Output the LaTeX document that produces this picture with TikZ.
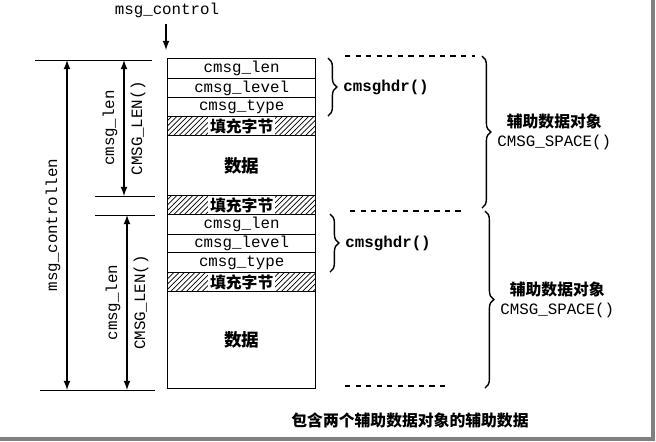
\documentclass[tikz,border=0pt]{standalone}
\usepackage{fontspec}
\setmonofont{Liberation Mono}
\newfontfamily\cjk{Noto Sans CJK SC}
\usetikzlibrary{patterns,decorations.pathreplacing}
\tikzset{
  field/.style={draw, thick, minimum width=148*0.02cm, inner sep=0pt, anchor=north west, font=\ttfamily\small},
  padfield/.style={field, pattern=north east lines},
  padtext/.style={fill=white, inner sep=1pt, font=\cjk\bfseries\small},
  dimline/.style={thick, <->, >=latex},
  brace/.style={decorate, decoration={brace, amplitude=5pt}, thick},
}
\begin{document}
\begin{tikzpicture}[x=0.02cm, y=-0.02cm]
    \useasboundingbox (0,0) rectangle (656,441);
    \draw[gray, line width=2pt] (653,0) -- (653,439) -- (0,439);

    % first object
    \node[field, minimum height=20*0.02cm] (len1) at (167,58) {cmsg\_len};
    \node[field, minimum height=19*0.02cm] (lvl1) at (167,78) {cmsg\_level};
    \node[field, minimum height=19*0.02cm] (typ1) at (167,97) {cmsg\_type};
    \node[padfield, minimum height=19*0.02cm] (pad1) at (167,116) {};
    \node[padtext] at (pad1) {填充字节};
    \node[field, minimum height=60*0.02cm, font=\cjk\bfseries] (dat1) at (167,135) {数据};
    \node[padfield, minimum height=19*0.02cm] (pad2) at (167,195) {};
    \node[padtext] at (pad2) {填充字节};

    % second object
    \node[field, minimum height=20*0.02cm] (len2) at (167,214) {cmsg\_len};
    \node[field, minimum height=18*0.02cm] (lvl2) at (167,234) {cmsg\_level};
    \node[field, minimum height=20*0.02cm] (typ2) at (167,252) {cmsg\_type};
    \node[padfield, minimum height=19*0.02cm] (pad3) at (167,272) {};
    \node[padtext] at (pad3) {填充字节};
    \node[field, minimum height=97*0.02cm, font=\cjk\bfseries] (dat2) at (167,291) {数据};

    % msg_control pointer
    \node[font=\ttfamily\small] (ctl) at (167,10) {msg\_control};
    \coordinate (ctlend) at (166,50);
    \draw[thick, ->, >=latex] (ctl.south -| ctlend) -- (ctlend);

    % dimension lines
    \coordinate (t0) at (35,60);  \coordinate (t1) at (152,60);
    \coordinate (m0) at (95,196); \coordinate (m1) at (155,196);
    \coordinate (n0) at (95,215); \coordinate (n1) at (155,215);
    \coordinate (b0) at (40,390); \coordinate (b1) at (155,390);
    \draw (t0) -- (t1);
    \draw (m0) -- (m1);
    \draw (n0) -- (n1);
    \draw (b0) -- (b1);
    \draw[dimline] (67,390) -- node[sloped, above, font=\ttfamily\small] {msg\_controllen} (67,60);
    \draw[dimline] (124,196) -- node[sloped, above, font=\ttfamily\small] {cmsg\_len}
        node[sloped, below, font=\ttfamily\small] {CMSG\_LEN()} (124,60);
    \draw[dimline] (127,390) -- node[sloped, above, font=\ttfamily\small] {cmsg\_len}
        node[sloped, below, font=\ttfamily\small] {CMSG\_LEN()} (127,215);

    % braces
    \draw[brace] (328,58) -- node[right=5pt, font=\ttfamily\bfseries\small] (hdr1) {cmsghdr()} (328,116);
    \draw[brace] (330,214) -- node[right=5pt, font=\ttfamily\bfseries\small] (hdr2) {cmsghdr()} (330,272);
    \draw[dashed, thick] (345,56) -- (475,56);
    \draw[dashed, thick] (350,211) -- (465,211);
    \draw[dashed, thick] (345,386) -- (450,386);
    \draw[brace] (482,56) -- node[right=5pt, align=center, font=\small] (obj1) {{\cjk\bfseries 辅助数据对象}\\\ttfamily CMSG\_SPACE()} (482,208);
    \draw[brace] (485,211) -- node[right=5pt, align=center, font=\small] (obj2) {{\cjk\bfseries 辅助数据对象}\\\ttfamily CMSG\_SPACE()} (485,388);

    \node[font=\cjk\bfseries\small] (cap) at (410,420) {包含两个辅助数据对象的辅助数据};
\end{tikzpicture}
\end{document}
